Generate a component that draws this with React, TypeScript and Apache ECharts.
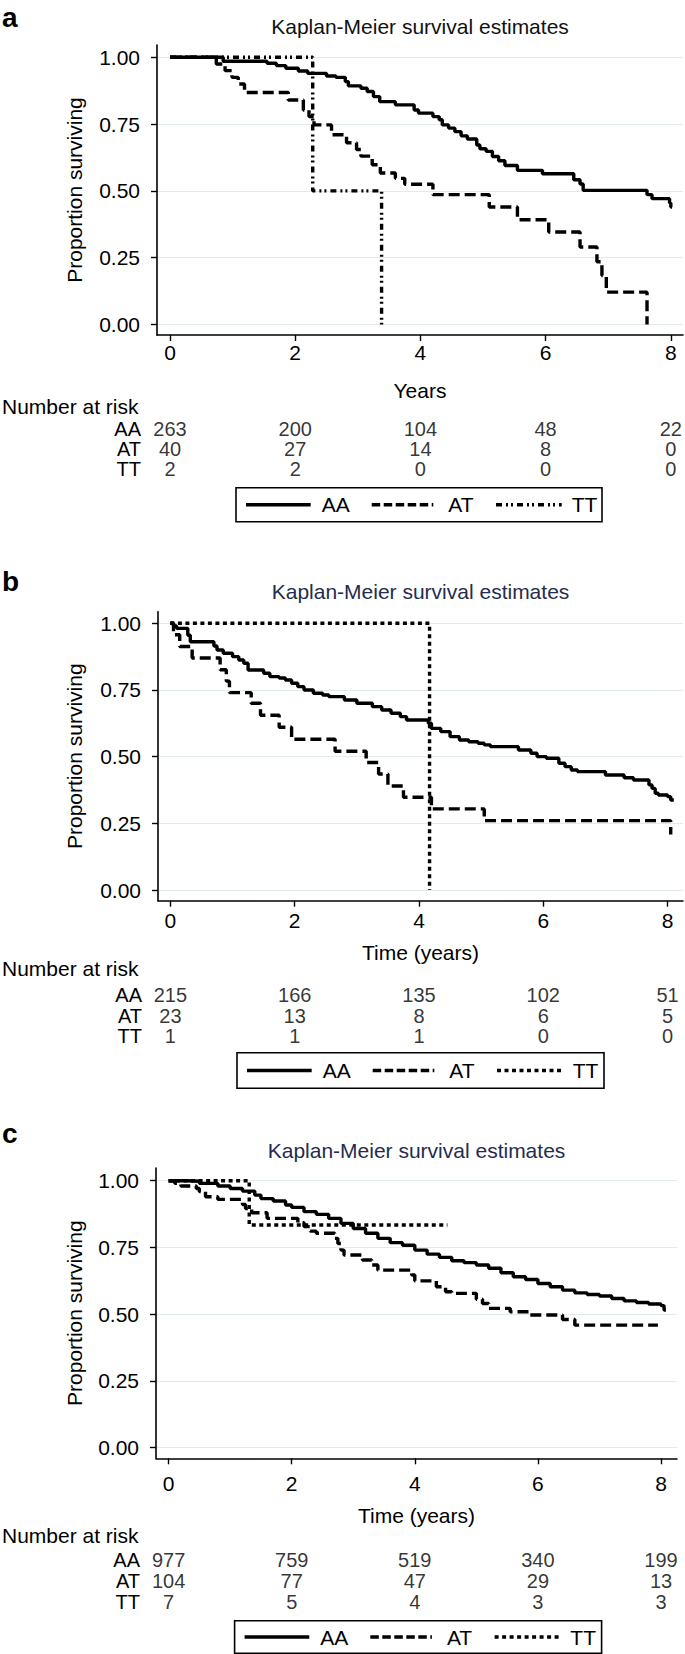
import React, { useEffect, useRef } from 'react';
import * as echarts from 'echarts';

// ---------- DATA ----------
const groups = ['AA', 'AT', 'TT'];
const xTicks = [0, 2, 4, 6, 8];
const yTicks = [0, 0.25, 0.5, 0.75, 1];
const riskTimes = [0, 2, 4, 6, 8];
const titleText = 'Kaplan-Meier survival estimates';
const yName = 'Proportion surviving';
const riskHeader = 'Number at risk';

// Panel a
const aAA: number[][] = [
  [0, 1], [0.85, 0.985], [1.55, 0.978], [1.7, 0.969], [1.85, 0.959], [2.05, 0.949], [2.2, 0.94],
  [2.5, 0.93], [2.65, 0.925], [2.8, 0.909], [2.85, 0.893], [3.05, 0.884], [3.15, 0.872], [3.25, 0.853],
  [3.35, 0.834], [3.6, 0.822], [3.9, 0.803], [3.97, 0.791], [4.2, 0.778], [4.3, 0.766], [4.35, 0.747],
  [4.45, 0.735], [4.55, 0.722], [4.65, 0.706], [4.75, 0.694], [4.9, 0.672], [4.95, 0.658], [5.05, 0.648],
  [5.15, 0.629], [5.25, 0.613], [5.35, 0.595], [5.55, 0.577], [5.95, 0.564], [6.45, 0.542], [6.55, 0.526],
  [6.6, 0.502], [7.62, 0.486], [7.7, 0.471], [7.98, 0.455], [8.0, 0.44], [8.02, 0.44],
];
const aAT: number[][] = [
  [0, 1], [0.74, 0.975], [0.88, 0.95], [0.99, 0.925], [1.09, 0.9], [1.19, 0.868], [1.89, 0.84],
  [2.13, 0.803], [2.22, 0.778], [2.3, 0.747], [2.58, 0.71], [2.82, 0.68], [2.98, 0.655], [3.05, 0.63],
  [3.23, 0.598], [3.36, 0.567], [3.6, 0.547], [3.75, 0.525], [4.2, 0.486], [5.1, 0.44], [5.55, 0.392],
  [6.05, 0.346], [6.55, 0.29], [6.82, 0.235], [6.9, 0.183], [6.97, 0.121], [7.62, 0.0],
];
const aTT: number[][] = [[0, 1], [2.28, 0.5], [3.38, 0]];
const aRiskAA = [263, 200, 104, 48, 22];
const aRiskAT = [40, 27, 14, 8, 0];
const aRiskTT = [2, 2, 0, 0, 0];

// Panel b
const bAA: number[][] = [
  [0, 1], [0.05, 0.99], [0.1, 0.981], [0.28, 0.955], [0.32, 0.931], [0.7, 0.915], [0.75, 0.9],
  [0.85, 0.8875], [1.0, 0.875], [1.1, 0.8625], [1.18, 0.85], [1.25, 0.825], [1.5, 0.8125], [1.6, 0.8],
  [1.75, 0.795], [1.85, 0.7875], [1.95, 0.775], [2.05, 0.7625], [2.15, 0.75], [2.3, 0.7375], [2.45, 0.731],
  [2.55, 0.725], [2.8, 0.7125], [3.0, 0.7], [3.25, 0.6875], [3.4, 0.675], [3.55, 0.6625], [3.7, 0.65],
  [3.8, 0.6375], [4.15, 0.625], [4.2, 0.606], [4.35, 0.594], [4.5, 0.575], [4.65, 0.5625], [4.8, 0.556],
  [4.95, 0.55], [5.05, 0.544], [5.15, 0.5375], [5.6, 0.525], [5.8, 0.5125], [5.9, 0.5], [6.05, 0.494],
  [6.25, 0.475], [6.35, 0.4625], [6.45, 0.45], [6.55, 0.444], [7.0, 0.431], [7.3, 0.421], [7.45, 0.4125],
  [7.7, 0.394], [7.75, 0.381], [7.8, 0.3625], [7.85, 0.356], [8.0, 0.35], [8.05, 0.3375], [8.1, 0.3375],
];
const bAT: number[][] = [
  [0, 1], [0.05, 0.957], [0.15, 0.913], [0.35, 0.87], [0.8, 0.826], [0.9, 0.783], [0.95, 0.74],
  [1.3, 0.7], [1.45, 0.655], [1.75, 0.61], [1.95, 0.565], [2.65, 0.52], [3.15, 0.478], [3.35, 0.435],
  [3.5, 0.39], [3.75, 0.348], [4.2, 0.304], [5.05, 0.26], [8.05, 0.208],
];
const bTT: number[][] = [[0, 1], [4.17, 0]];
const bRiskAA = [215, 166, 135, 102, 51];
const bRiskAT = [23, 13, 8, 6, 5];
const bRiskTT = [1, 1, 1, 0, 0];

// Panel c
const cAA: number[][] = [
  [0, 1], [0.3, 0.998], [0.5, 0.99], [0.8, 0.98], [1.0, 0.971], [1.2, 0.961], [1.4, 0.946], [1.5, 0.933],
  [1.7, 0.924], [1.9, 0.909], [2.0, 0.9], [2.2, 0.884], [2.4, 0.874], [2.6, 0.859], [2.8, 0.84], [3.0, 0.821],
  [3.2, 0.803], [3.4, 0.784], [3.6, 0.768], [3.8, 0.758], [4.0, 0.74], [4.2, 0.725], [4.4, 0.713], [4.6, 0.7],
  [4.8, 0.693], [5.0, 0.684], [5.2, 0.672], [5.4, 0.655], [5.6, 0.64], [5.8, 0.63], [6.0, 0.615], [6.2, 0.603],
  [6.4, 0.59], [6.6, 0.58], [6.8, 0.574], [7.0, 0.568], [7.2, 0.559], [7.4, 0.55], [7.6, 0.544], [7.8, 0.538],
  [8.0, 0.532], [8.05, 0.516], [8.08, 0.516],
];
const cAT: number[][] = [
  [0, 1], [0.1, 0.99], [0.2, 0.98], [0.45, 0.971], [0.5, 0.959], [0.6, 0.94], [0.8, 0.93], [1.2, 0.911],
  [1.25, 0.896], [1.35, 0.88], [1.6, 0.859], [2.1, 0.843], [2.2, 0.828], [2.3, 0.811], [2.4, 0.803],
  [2.7, 0.784], [2.75, 0.765], [2.8, 0.74], [2.85, 0.722], [3.15, 0.703], [3.3, 0.684], [3.4, 0.665],
  [3.95, 0.647], [4.0, 0.625], [4.35, 0.603], [4.5, 0.584], [4.6, 0.578], [5.0, 0.556], [5.1, 0.54],
  [5.2, 0.522], [5.55, 0.509], [5.85, 0.497], [6.4, 0.48], [6.6, 0.459], [7.95, 0.459],
];
const cTT: number[][] = [[0, 1], [1.31, 0.834], [4.53, 0.834]];
const cRiskAA = [977, 759, 519, 340, 199];
const cRiskAT = [104, 77, 47, 29, 13];
const cRiskTT = [7, 5, 4, 3, 3];

// ---------- STYLE / LAYOUT ----------
const FONT = "'Liberation Sans', Arial, Helvetica, sans-serif";
const FS_TICK = 21;
const FS_ROW = 20;
const FS_TEXT = 21;
const PLOT_DASH = [11, 5];
const LEG_DASH = [8.5, 3.5];
const DOT = [4, 3.5];
const DASHDOT = [6, 4, 2, 3, 2, 4];

const panels = [
  {
    letter: 'a', xName: 'Years', titleColor: '#111111',
    curves: [aAA, aAT, aTT], risk: [aRiskAA, aRiskAT, aRiskTT], ttDash: DASHDOT,
    L: { axisX: 157, x0: 170, x8: 670.8, right: 683, top: 45, y1: 57.3, y0: 324.5, bottom: 335,
      letterY: 17, titleY: 26, tickY: 352, nameY: 390.5, narY: 406.5, rowTop: 419, rowH: 20,
      lgX: 236, lgY: 487.7, lgW: 366, lgH: 34 },
  },
  {
    letter: 'b', xName: 'Time (years)', titleColor: '#1f2d50',
    curves: [bAA, bAT, bTT], risk: [bRiskAA, bRiskAT, bRiskTT], ttDash: DOT,
    L: { axisX: 158, x0: 170.4, x8: 667.6, right: 683, top: 611.7, y1: 623.3, y0: 890, bottom: 900.7,
      letterY: 581, titleY: 591.7, tickY: 920, nameY: 952, narY: 968, rowTop: 985, rowH: 20.5,
      lgX: 237, lgY: 1052.7, lgW: 367, lgH: 35.6 },
  },
  {
    letter: 'c', xName: 'Time (years)', titleColor: '#1f2d50',
    curves: [cAA, cAT, cTT], risk: [cRiskAA, cRiskAT, cRiskTT], ttDash: DOT,
    L: { axisX: 156, x0: 168.6, x8: 661, right: 677, top: 1168, y1: 1180.7, y0: 1447.7, bottom: 1458.3,
      letterY: 1133, titleY: 1150, tickY: 1483.5, nameY: 1515, narY: 1535, rowTop: 1549.6, rowH: 20.8,
      lgX: 234.6, lgY: 1620.7, lgW: 367, lgH: 32.6 },
  },
];

function txt(x: number, y: number, text: string, opts: any = {}) {
  const align = opts.align || 'left';
  const va = opts.va || 'middle';
  return {
    type: 'text', x, y, silent: true,
    style: {
      text, fill: opts.color || '#000', fontSize: opts.size || FS_TEXT, fontFamily: FONT,
      fontWeight: opts.weight || 'normal',
      align, textAlign: align, verticalAlign: va, textVerticalAlign: va,
    },
  };
}

function buildOption() {
  const grid: any[] = [];
  const xAxis: any[] = [];
  const yAxis: any[] = [];
  const series: any[] = [];
  const graphic: any[] = [];

  panels.forEach((p, i) => {
    const L = p.L;
    const unitX = (L.x8 - L.x0) / 8;
    const unitY = L.y0 - L.y1;
    const xMin = (L.axisX - L.x0) / unitX;
    const xMax = (L.right - L.x0) / unitX;
    const yMax = 1 + (L.y1 - L.top) / unitY;
    const yMin = -(L.bottom - L.y0) / unitY;
    const gi = i * 2;

    grid.push({ left: L.axisX, top: L.top, width: L.right - L.axisX, height: L.bottom - L.top,
      containLabel: false, outerBoundsMode: 'none' });
    grid.push({ left: L.axisX, top: L.rowTop, width: L.right - L.axisX, height: L.rowH * 3,
      containLabel: false, outerBoundsMode: 'none' });

    xAxis.push({
      gridIndex: gi, type: 'value', min: xMin, max: xMax,
      name: p.xName, nameLocation: 'middle', nameGap: L.nameY - L.bottom - FS_TEXT / 2,
      nameTextStyle: { fontSize: FS_TEXT, color: '#000', fontFamily: FONT },
      axisLine: { show: true, onZero: false, lineStyle: { color: '#000', width: 1.6 } },
      axisTick: { show: true, customValues: xTicks, length: 6, lineStyle: { color: '#000', width: 1.4 } },
      axisLabel: { show: true, customValues: xTicks, margin: L.tickY - L.bottom - FS_TICK / 2, fontSize: FS_TICK,
        color: '#000', fontFamily: FONT, formatter: (v: number) => String(Math.round(v)) },
      splitLine: { show: false },
    });
    xAxis.push({ gridIndex: gi + 1, type: 'value', min: xMin, max: xMax, show: false });

    yAxis.push({
      gridIndex: gi, type: 'value', min: yMin, max: yMax,
      name: yName, nameLocation: 'middle', nameRotate: 90, nameGap: L.axisX - 74 - FS_TEXT / 2,
      nameTextStyle: { fontSize: FS_TEXT, color: '#000', fontFamily: FONT },
      axisLine: { show: true, onZero: false, lineStyle: { color: '#000', width: 1.6 } },
      axisTick: { show: true, customValues: yTicks, length: 6, lineStyle: { color: '#000', width: 1.4 } },
      axisLabel: { show: true, customValues: yTicks, margin: 17, fontSize: FS_TICK, color: '#000',
        fontFamily: FONT, formatter: (v: number) => v.toFixed(2) },
      splitLine: { show: true, lineStyle: { color: '#e3eaea', width: 1.2 } },
    });
    yAxis.push({
      gridIndex: gi + 1, type: 'category', data: groups, inverse: true,
      axisLine: { show: false }, axisTick: { show: false }, splitLine: { show: false },
      axisLabel: { show: true, interval: 0, margin: 16, fontSize: FS_ROW, lineHeight: 20,
        color: '#000', fontFamily: FONT },
    });

    const dashes = ['solid', PLOT_DASH, p.ttDash];
    p.curves.forEach((data, k) => {
      series.push({
        type: 'line', name: `${p.letter}-${groups[k]}`, xAxisIndex: gi, yAxisIndex: gi,
        data, step: 'end', symbol: 'none', showSymbol: false, silent: true, z: 3 - k,
        lineStyle: { color: '#000', width: 3.4, type: dashes[k], cap: 'butt' },
      });
    });

    const riskData: any[] = [];
    p.risk.forEach((row, k) => {
      row.forEach((n, j) => riskData.push([riskTimes[j], groups[k], n]));
    });
    series.push({
      type: 'scatter', name: `${p.letter}-risk`, xAxisIndex: gi + 1, yAxisIndex: gi + 1,
      data: riskData, symbolSize: 1, silent: true, itemStyle: { color: 'rgba(0,0,0,0)' },
      label: { show: true, position: 'inside', fontSize: FS_ROW, lineHeight: 20, color: '#000', fontFamily: FONT,
        formatter: (q: any) => String(q.value[2]) },
    });

    // panel letter, title, risk header
    graphic.push(txt(2, L.letterY, p.letter, { size: 28, weight: 'bold' }));
    graphic.push(txt((L.axisX + L.right) / 2, L.titleY, titleText, { align: 'center', color: p.titleColor }));
    graphic.push(txt(2, L.narY, riskHeader));

    // legend box
    const cy = L.lgH / 2;
    const items = [
      { x1: 10, x2: 74.7, tx: 85.7, dash: null },
      { x1: 135.7, x2: 197.3, tx: 212.3, dash: LEG_DASH },
      { x1: 260, x2: 325.7, tx: 335.7, dash: p.ttDash },
    ];
    const children: any[] = [
      { type: 'rect', shape: { x: 0, y: 0, width: L.lgW, height: L.lgH },
        style: { fill: '#fff', stroke: '#000', lineWidth: 1.6 } },
    ];
    items.forEach((it, k) => {
      children.push({ type: 'line', shape: { x1: it.x1, y1: cy, x2: it.x2, y2: cy },
        style: { stroke: '#000', lineWidth: 3.4, lineDash: it.dash || undefined, lineCap: 'butt' } });
      children.push(txt(it.tx, cy, groups[k], { size: FS_TEXT }));
    });
    graphic.push({ type: 'group', x: L.lgX, y: L.lgY, silent: true, children });
  });

  return {
    animation: false,
    backgroundColor: '#ffffff',
    textStyle: { fontFamily: FONT },
    grid, xAxis, yAxis, series, graphic,
  };
}

export default function App() {
  const ref = useRef<HTMLDivElement>(null);
  useEffect(() => {
    if (!ref.current) return;
    const chart = echarts.init(ref.current, null, { renderer: 'svg' });
    chart.setOption(buildOption() as any);
    return () => chart.dispose();
  }, []);
  return (
    <div ref={ref} style={{ position: 'absolute', left: 0, top: 0, width: 685, height: 1654, background: '#fff' }} />
  );
}
